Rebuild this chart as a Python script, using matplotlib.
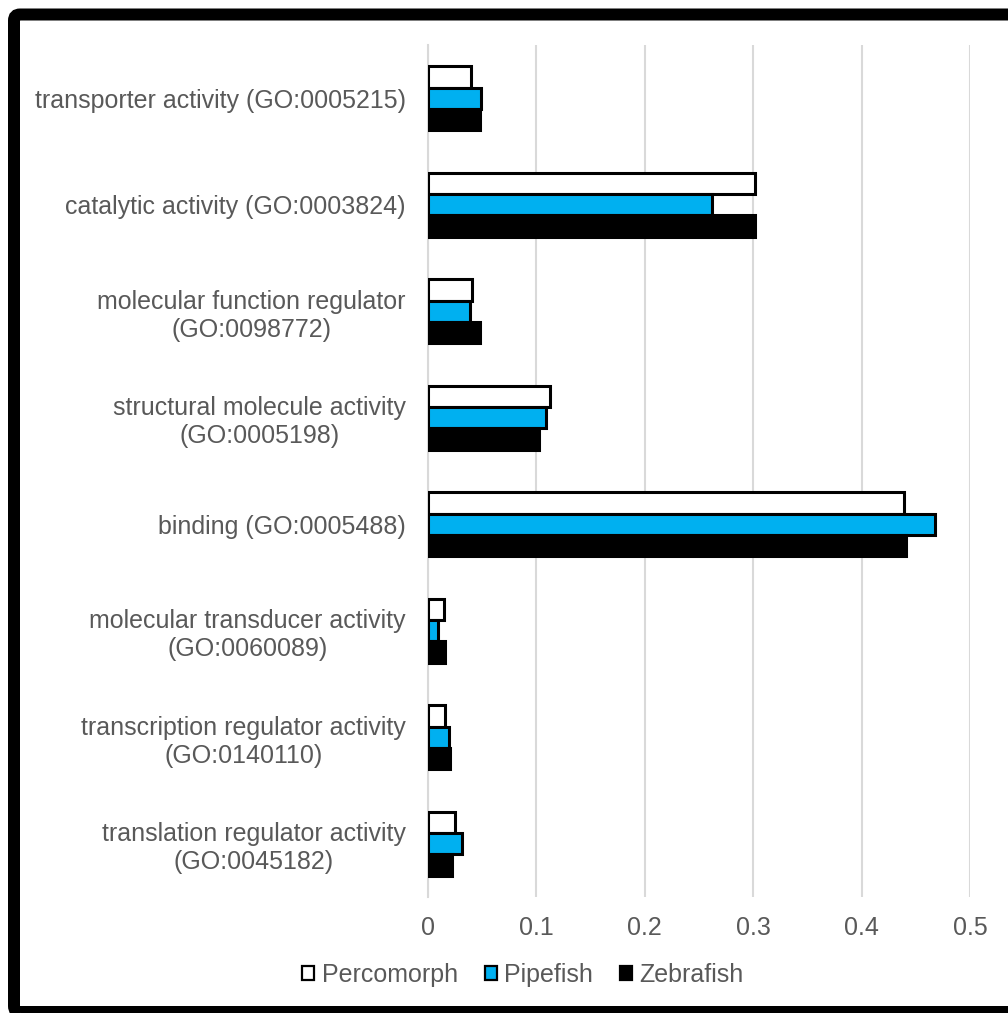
import matplotlib
matplotlib.use("Agg")
import matplotlib.pyplot as plt
from matplotlib.patches import Patch, FancyBboxPatch
import numpy as np

plt.rcParams['font.family'] = ['Liberation Sans', 'DejaVu Sans']

categories = [
    "transporter activity (GO:0005215)",
    "catalytic activity (GO:0003824)",
    "molecular function regulator\n(GO:0098772)",
    "structural molecule activity\n(GO:0005198)",
    "binding (GO:0005488)",
    "molecular transducer activity\n(GO:0060089)",
    "transcription regulator activity\n(GO:0140110)",
    "translation regulator activity\n(GO:0045182)",
]
percomorph = [0.040, 0.302, 0.041, 0.113, 0.439, 0.015, 0.0155, 0.025]
pipefish = [0.049, 0.262, 0.039, 0.109, 0.468, 0.009, 0.019, 0.031]
zebrafish = [0.048, 0.302, 0.048, 0.102, 0.441, 0.016, 0.020, 0.022]
series_names = ["Percomorph", "Pipefish", "Zebrafish"]
x_ticks = [0, 0.1, 0.2, 0.3, 0.4, 0.5]

W, H = 1008, 1013
fig = plt.figure(figsize=(W / 100, H / 100), dpi=100)

# plot area in pixels: left 428, right 970, top 45, bottom 897
ax = fig.add_axes([428 / W, 1 - 897 / H, (970 - 428) / W, (897 - 45) / H])

text_color = "#595959"
fills = ["white", "#00B0F0", "black"]
series = [percomorph, pipefish, zebrafish]
n = len(categories)
pos = np.arange(n)
bar_h = 0.2
offsets = [-bar_h, 0, bar_h]

for vals, col, off in zip(series, fills, offsets):
    ax.barh(pos + off, vals, height=bar_h, color=col, edgecolor="black",
            linewidth=2.2, zorder=3)

ax.set_ylim(n - 0.5, -0.5)
ax.set_xlim(0, 0.5)
ax.set_xticks(x_ticks)
ax.set_xticklabels([f"{t:g}" for t in x_ticks])
ax.set_yticks(pos)
ax.set_yticklabels(categories, multialignment="center")

ax.grid(axis="x", color="#D9D9D9", linewidth=1.5, zorder=0)
for s in ["top", "right", "bottom"]:
    ax.spines[s].set_visible(False)
ax.spines["left"].set_color("#D9D9D9")
ax.spines["left"].set_linewidth(1.5)

ax.tick_params(axis="both", length=0, labelsize=18, labelcolor=text_color)
ax.tick_params(axis="y", pad=16)
ax.tick_params(axis="x", pad=14)

handles = [Patch(facecolor=c, edgecolor="black", linewidth=1.6) for c in fills]
leg = fig.legend(handles, series_names, loc="center", bbox_to_anchor=(523 / W, 1 - 975 / H),
                 ncol=3, frameon=False, fontsize=18, handlelength=0.48, handleheight=0.48,
                 handletextpad=0.3, columnspacing=1.08, borderpad=0)
for t in leg.get_texts():
    t.set_color(text_color)

# thick black chart frame, running off the right and bottom edges
frame = FancyBboxPatch((14 / W, 1 / H), 1.02 - 14 / W, 1 - 14.5 / H - 1 / H,
                       boxstyle="round,pad=0,rounding_size=0.006",
                       transform=fig.transFigure, facecolor="none",
                       edgecolor="black", linewidth=8.64, clip_on=False)
fig.patches.append(frame)

fig.savefig("out.png", dpi=100)
